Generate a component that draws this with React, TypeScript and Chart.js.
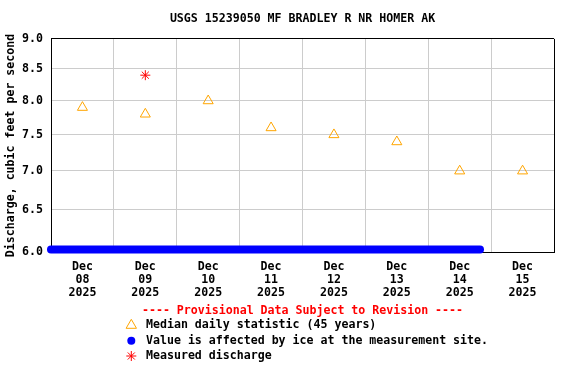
import React, { useEffect, useRef } from 'react';
import { Chart, registerables } from 'chart.js';

Chart.register(...registerables);

// ---------- data ----------
const TITLE = 'USGS 15239050 MF BRADLEY R NR HOMER AK';
const Y_TITLE = 'Discharge, cubic feet per second';
const AXIS_START = '2025-12-08T00:00';
const AXIS_END = '2025-12-16T00:00';

const dayBoundaries = [
  '2025-12-08T00:00', '2025-12-09T00:00', '2025-12-10T00:00', '2025-12-11T00:00',
  '2025-12-12T00:00', '2025-12-13T00:00', '2025-12-14T00:00', '2025-12-15T00:00',
  '2025-12-16T00:00',
];
const tickDates = [
  '2025-12-08T12:00', '2025-12-09T12:00', '2025-12-10T12:00', '2025-12-11T12:00',
  '2025-12-12T12:00', '2025-12-13T12:00', '2025-12-14T12:00', '2025-12-15T12:00',
];
const tickLabels = [
  ['Dec', '08', '2025'], ['Dec', '09', '2025'], ['Dec', '10', '2025'], ['Dec', '11', '2025'],
  ['Dec', '12', '2025'], ['Dec', '13', '2025'], ['Dec', '14', '2025'], ['Dec', '15', '2025'],
];

const medianDates = [
  '2025-12-08T12:00', '2025-12-09T12:00', '2025-12-10T12:00', '2025-12-11T12:00',
  '2025-12-12T12:00', '2025-12-13T12:00', '2025-12-14T12:00', '2025-12-15T12:00',
];
const medianValues = [7.9, 7.8, 8.0, 7.6, 7.5, 7.4, 7.0, 7.0];

const measuredDates = ['2025-12-09T12:00'];
const measuredValues = [8.4];

const iceDates = ['2025-12-08T00:00', '2025-12-14T19:45'];
const iceValues = [6.03, 6.03];

const yTicks = [6.0, 6.5, 7.0, 7.5, 8.0, 8.5, 9.0];
const Y_MIN = 6.0;
const Y_MAX = 9.0;

const PROVISIONAL = '---- Provisional Data Subject to Revision ----';
const legendLabels = [
  'Median daily statistic (45 years)',
  'Value is affected by ice at the measurement site.',
  'Measured discharge',
];

// ---------- styles ----------
const FONT_FAMILY = '"DejaVu Sans Mono", monospace';
const FONT_SIZE = 11.6;
const GRID = '#cccccc';
const ORANGE = '#ffa500';
const BLUE = '#0000ff';
const RED = '#ff0000';

const toDay = (s: string) =>
  (Date.parse(s + ':00Z') - Date.parse(AXIS_START + ':00Z')) / 86400000;

const boundaryVals = dayBoundaries.map(toDay);
const tickVals = tickDates.map(toDay);

const legendPlugin = {
  id: 'usgsLegend',
  afterDraw(chart: any) {
    const ctx = chart.ctx as CanvasRenderingContext2D;
    const area = chart.chartArea;
    ctx.save();
    ctx.font = `bold ${FONT_SIZE}px ${FONT_FAMILY}`;
    ctx.textBaseline = 'middle';
    // provisional banner
    ctx.fillStyle = RED;
    ctx.textAlign = 'center';
    ctx.fillText(PROVISIONAL, (area.left + area.right) / 2, area.bottom + 59);

    const mx = 131.3;
    const tx = 146;
    const rowY = [area.bottom + 73.3, area.bottom + 88.7, area.bottom + 104];
    ctx.textAlign = 'left';
    ctx.fillStyle = '#000';
    legendLabels.forEach((lbl, i) => ctx.fillText(lbl, tx, rowY[i]));

    // triangle
    const r = 6;
    ctx.lineWidth = 1;
    ctx.strokeStyle = ORANGE;
    ctx.beginPath();
    let rad = 0;
    ctx.moveTo(mx + Math.sin(rad) * r, rowY[0] - Math.cos(rad) * r);
    rad += (2 * Math.PI) / 3;
    ctx.lineTo(mx + Math.sin(rad) * r, rowY[0] - Math.cos(rad) * r);
    rad += (2 * Math.PI) / 3;
    ctx.lineTo(mx + Math.sin(rad) * r, rowY[0] - Math.cos(rad) * r);
    ctx.closePath();
    ctx.stroke();

    // circle
    ctx.fillStyle = BLUE;
    ctx.beginPath();
    ctx.arc(mx, rowY[1], 4, 0, Math.PI * 2);
    ctx.fill();

    // star
    ctx.strokeStyle = RED;
    ctx.beginPath();
    const s = 5;
    for (let k = 0; k < 4; k++) {
      const a = (k * Math.PI) / 4;
      ctx.moveTo(mx + Math.cos(a) * s, rowY[2] + Math.sin(a) * s);
      ctx.lineTo(mx - Math.cos(a) * s, rowY[2] - Math.sin(a) * s);
    }
    ctx.stroke();
    ctx.restore();
  },
};

export default function App() {
  const canvasRef = useRef<HTMLCanvasElement | null>(null);

  useEffect(() => {
    document.body.style.margin = '0';
    const canvas = canvasRef.current;
    if (!canvas) return;
    const font = { family: FONT_FAMILY, size: FONT_SIZE, weight: 'bold' as const };

    const chart = new Chart(canvas, {
      type: 'line',
      data: {
        datasets: [
          {
            label: legendLabels[1],
            data: iceDates.map((d, i) => ({ x: toDay(d), y: iceValues[i] })),
            borderColor: BLUE,
            backgroundColor: BLUE,
            borderWidth: 8,
            borderCapStyle: 'round',
            pointRadius: 0,
            showLine: true,
            clip: false as any,
          },
          {
            label: legendLabels[0],
            data: medianDates.map((d, i) => ({ x: toDay(d), y: medianValues[i] })),
            showLine: false,
            pointStyle: 'triangle',
            pointRadius: 5.8,
            pointBorderWidth: 1,
            pointBorderColor: ORANGE,
            pointBackgroundColor: 'rgba(0,0,0,0)',
            borderColor: ORANGE,
          },
          {
            label: legendLabels[2],
            data: measuredDates.map((d, i) => ({ x: toDay(d), y: measuredValues[i] })),
            showLine: false,
            pointStyle: 'star',
            pointRadius: 5,
            pointBorderWidth: 1,
            pointBorderColor: RED,
            borderColor: RED,
          },
        ],
      },
      options: {
        responsive: false,
        animation: false,
        devicePixelRatio: 1,
        layout: { padding: { left: 0, right: 22, top: 0, bottom: 82 } },
        scales: {
          x: {
            type: 'linear',
            min: toDay(AXIS_START),
            max: toDay(AXIS_END),
            afterBuildTicks: (scale: any) => {
              const all = [...boundaryVals, ...tickVals].sort((a, b) => a - b);
              scale.ticks = all.map((v) => ({ value: v }));
            },
            afterFit: (scale: any) => {
              scale.height = 50;
            },
            ticks: {
              autoSkip: false,
              maxRotation: 0,
              minRotation: 0,
              padding: 8,
              color: '#000',
              font: { ...font, lineHeight: 1.14 },
              callback: (value: any) => {
                const idx = tickVals.findIndex((t) => Math.abs(t - Number(value)) < 1e-6);
                return idx >= 0 ? tickLabels[idx] : '';
              },
            },
            grid: {
              drawTicks: false,
              lineWidth: 1,
              color: (ctx: any) => {
                const v = ctx.tick ? ctx.tick.value : 0;
                if (Math.abs(v - toDay(AXIS_END)) < 1e-6) return '#000';
                return boundaryVals.some((b) => Math.abs(b - v) < 1e-6) ? GRID : 'rgba(0,0,0,0)';
              },
            },
            border: { display: true, color: '#000', width: 1 },
          },
          y: {
            type: 'logarithmic',
            min: Y_MIN,
            max: Y_MAX,
            afterBuildTicks: (scale: any) => {
              scale.ticks = yTicks.map((v) => ({ value: v }));
            },
            afterFit: (scale: any) => {
              scale.width = 51;
            },
            ticks: {
              padding: 8,
              color: '#000',
              font,
              callback: (value: any) => Number(value).toFixed(1),
            },
            grid: {
              drawTicks: false,
              lineWidth: 1,
              color: (ctx: any) => {
                const v = ctx.tick ? ctx.tick.value : 0;
                return Math.abs(v - Y_MAX) < 1e-6 ? '#000' : GRID;
              },
            },
            border: { display: true, color: '#000', width: 1 },
            title: {
              display: true,
              text: Y_TITLE,
              color: '#000',
              font,
              padding: { top: 4, bottom: 0 },
            },
          },
        },
        plugins: {
          legend: { display: false },
          tooltip: { enabled: false },
          title: {
            display: true,
            fullSize: false,
            text: TITLE,
            color: '#000',
            font,
            padding: { top: 12.5, bottom: 12.5 },
          },
        },
      },
      plugins: [legendPlugin],
    });

    return () => chart.destroy();
  }, []);

  return (
    <canvas
      ref={canvasRef}
      width={576}
      height={384}
      style={{ display: 'block', width: 576, height: 384 }}
    />
  );
}
